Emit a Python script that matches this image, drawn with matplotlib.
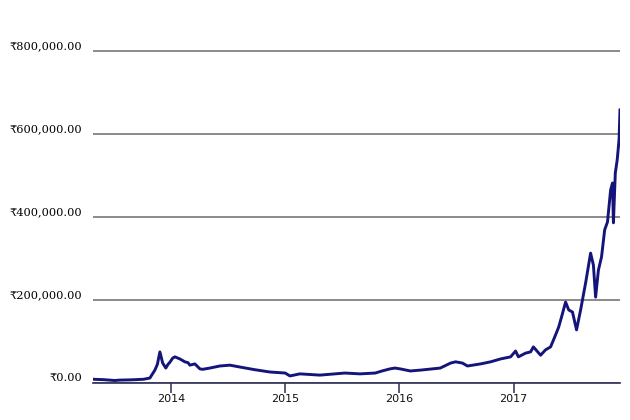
import pandas as pd
import matplotlib
matplotlib.use("Agg")
import matplotlib.pyplot as plt
import matplotlib.dates as mdates
from matplotlib.ticker import FuncFormatter

# bitcoin price in INR
dates = ["2013-04-26", "2013-05-31", "2013-07-05", "2013-07-21", "2013-08-20", "2013-09-08",
         "2013-10-05", "2013-10-25", "2013-11-10", "2013-11-18", "2013-11-26", "2013-12-05",
         "2013-12-15", "2013-12-22", "2013-12-28", "2014-01-06", "2014-01-13", "2014-01-29",
         "2014-02-14", "2014-02-24", "2014-03-02", "2014-03-18", "2014-04-03", "2014-04-12",
         "2014-05-05", "2014-06-06", "2014-07-08", "2014-08-09", "2014-09-26", "2014-11-13",
         "2015-01-01", "2015-01-16", "2015-02-17", "2015-04-22", "2015-07-11", "2015-08-28",
         "2015-10-16", "2015-11-07", "2015-12-02", "2015-12-18", "2016-01-04", "2016-02-05",
         "2016-03-08", "2016-05-11", "2016-06-13", "2016-06-29", "2016-07-21", "2016-08-06",
         "2016-09-17", "2016-10-19", "2016-11-20", "2016-12-22", "2017-01-07", "2017-01-16",
         "2017-02-08", "2017-02-24", "2017-03-05", "2017-03-28", "2017-04-13", "2017-04-29",
         "2017-05-15", "2017-05-25", "2017-06-03", "2017-06-16", "2017-06-26", "2017-07-08",
         "2017-07-21", "2017-08-03", "2017-08-19", "2017-09-04", "2017-09-13", "2017-09-20",
         "2017-09-29", "2017-10-09", "2017-10-19", "2017-10-28", "2017-11-07", "2017-11-13",
         "2017-11-16", "2017-11-22", "2017-11-28", "2017-12-04", "2017-12-07"]

price_k = [9, 8, 6, 7, 7.5, 8, 9, 12, 31, 45, 75, 48, 36, 45, 50,
           60, 63, 58, 51, 49, 43, 46, 34, 33, 36, 41, 43, 38.5, 32, 26.5,
           24, 17, 22, 19, 24, 22, 24, 29, 34, 36,
           34, 29, 31, 36, 48, 51, 48, 41, 46, 51, 58, 63,
           77, 63, 72, 75, 87, 67, 80, 87, 116, 135, 159, 195, 176, 171, 128, 176,
           241, 313, 284, 207, 272, 304, 369, 388, 465, 482, 386, 506, 537, 586, 658]

yticks = [0, 200000, 400000, 600000, 800000]
years = ["2014", "2015", "2016", "2017"]

t = pd.to_datetime(dates)
price = [p * 1000 for p in price_k]

fig = plt.figure(figsize=(6.3, 4.2), dpi=100)
ax = fig.add_axes([0.1476, 0.0881, 0.8365, 0.8003])

ax.plot(t, price, color="#14147a", lw=2.1, solid_joinstyle="round")

ax.set_xlim(t[0], t[-1])
ax.set_ylim(0, 810000)
ax.set_yticks(yticks)
ax.yaxis.set_major_formatter(FuncFormatter(lambda v, p: "₹{:,.2f}".format(v)))
ax.grid(axis="y", color="#8a8a8a", lw=1.4)
ax.set_axisbelow(True)

ax.set_xticks(pd.to_datetime([y + "-01-01" for y in years]))
ax.xaxis.set_major_formatter(mdates.DateFormatter("%Y"))

for s in ["top", "right", "left"]:
    ax.spines[s].set_visible(False)
ax.spines["bottom"].set_color("#2d2d55")
ax.spines["bottom"].set_linewidth(1.2)

ax.tick_params(axis="y", length=0, pad=8, labelsize=8.2, labelcolor="black")
ax.tick_params(axis="x", length=7, width=1.1, color="#2d2d55", pad=1, labelsize=8,
               labelcolor="#111111")
for lab in ax.get_yticklabels():
    lab.set_family("DejaVu Serif")
    lab.set_verticalalignment("bottom")

fig.savefig("out.png", dpi=100)
